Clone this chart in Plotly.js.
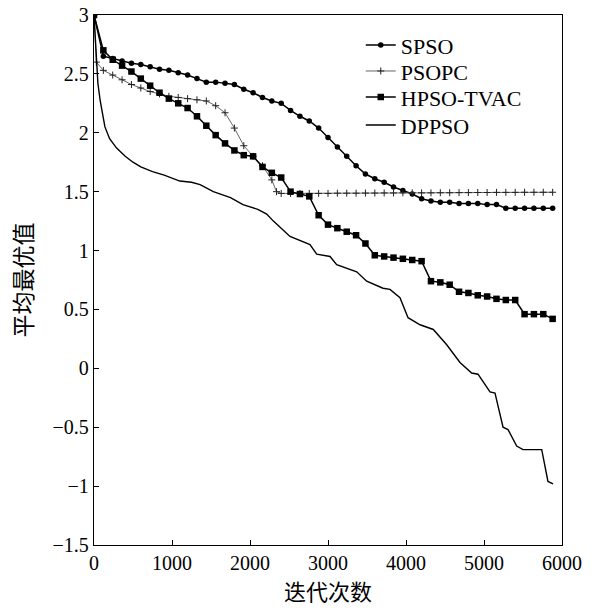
<!DOCTYPE html>
<html><head><meta charset="utf-8">
<script src="https://cdn.plot.ly/plotly-3.0.1.min.js"></script>
<style>body{margin:0;background:#fff}#c{width:598px;height:610px}</style>
</head><body><div id="c"></div>
<script>
const seriesNames = ["SPSO", "PSOPC", "HPSO-TVAC", "DPPSO"];
const xStep = [0,120,240,360,480,600,720,840,960,1080,1200,1320,1440,1560,1680,1800,1920,2040,2160,2280,2400,2520,2640,2760,2880,3000,3120,3240,3360,3480,3600,3720,3840,3960,4080,4200,4320,4440,4560,4680,4800,4920,5040,5160,5280,5400,5520,5640,5760,5880];
const spso = [3.0,2.65,2.63,2.61,2.59,2.58,2.56,2.54,2.53,2.51,2.49,2.46,2.43,2.43,2.42,2.41,2.37,2.34,2.30,2.27,2.25,2.19,2.14,2.10,2.04,1.96,1.88,1.80,1.72,1.65,1.61,1.58,1.54,1.51,1.48,1.44,1.42,1.41,1.41,1.40,1.40,1.40,1.39,1.39,1.36,1.36,1.36,1.36,1.36,1.36];
const hpso = [3.0,2.70,2.62,2.57,2.52,2.46,2.40,2.34,2.29,2.25,2.21,2.14,2.06,1.98,1.91,1.85,1.81,1.80,1.71,1.66,1.62,1.50,1.48,1.46,1.30,1.22,1.19,1.16,1.13,1.06,0.96,0.95,0.94,0.93,0.92,0.91,0.74,0.73,0.71,0.65,0.64,0.62,0.61,0.59,0.58,0.58,0.46,0.46,0.46,0.42];
const psopcX = [0,30,120,240,360,480,600,720,840,960,1080,1200,1320,1440,1560,1680,1800,1920,2040,2160,2280,2340,2400,2520,2640,2760,2880,3000,3120,3240,3360,3480,3600,3720,3840,3960,4080,4200,4320,4440,4560,4680,4800,4920,5040,5160,5280,5400,5520,5640,5760,5880];
const psopc = [3.0,2.60,2.53,2.49,2.45,2.41,2.38,2.35,2.33,2.31,2.30,2.29,2.28,2.27,2.23,2.17,2.04,1.89,1.80,1.72,1.60,1.50,1.485,1.485,1.485,1.485,1.485,1.485,1.487,1.487,1.487,1.488,1.488,1.489,1.489,1.49,1.49,1.49,1.49,1.491,1.491,1.492,1.492,1.493,1.493,1.494,1.494,1.494,1.495,1.495,1.495,1.495];
const dppsoX = [0,30,50,80,140,200,290,400,500,600,750,900,1100,1250,1360,1530,1750,1910,2100,2214,2300,2513,2650,2769,2855,3026,3111,3250,3368,3496,3705,3795,3923,4026,4180,4350,4522,4692,4842,4923,5077,5141,5244,5308,5419,5500,5740,5820,5885];
const dppso = [3.0,2.70,2.42,2.27,2.05,1.95,1.87,1.80,1.75,1.71,1.67,1.64,1.59,1.58,1.56,1.50,1.45,1.39,1.35,1.31,1.25,1.12,1.08,1.05,0.97,0.95,0.88,0.85,0.82,0.74,0.68,0.67,0.60,0.43,0.37,0.33,0.20,0.05,-0.04,-0.05,-0.20,-0.21,-0.50,-0.52,-0.66,-0.69,-0.69,-0.96,-0.98];
const xTicks = [0,1000,2000,3000,4000,5000,6000];
const yTicks = [-1.5,-1,-0.5,0,0.5,1,1.5,2,2.5,3];
const yTickText = ["−1.5","−1","−0.5","0","0.5","1","1.5","2","2.5","3"];

const traces = [
  {x: xStep, y: spso, name: seriesNames[0], legend: "legend", mode: "lines+markers",
   line: {color: "#000", width: 1.5}, marker: {symbol: "circle", size: 5.5, color: "#000"}},
  {x: psopcX, y: psopc, name: seriesNames[1], legend: "legend2", mode: "lines+markers",
   line: {color: "#555", width: 0.9}, marker: {symbol: "cross-thin", size: 5, line: {color: "#222", width: 1}}},
  {x: xStep, y: hpso, name: seriesNames[2], legend: "legend3", mode: "lines+markers",
   line: {color: "#000", width: 1.5}, marker: {symbol: "square", size: 6.5, color: "#000"}},
  {x: dppsoX, y: dppso, name: seriesNames[3], legend: "legend4", mode: "lines",
   line: {color: "#000", width: 1.4}}
];
const serif = "Liberation Serif, Times New Roman, serif";
const cjk = "Noto Sans CJK SC";
function leg(y) {
  return {x: 0.57, y: y, xanchor: "left", yanchor: "middle", bgcolor: "rgba(0,0,0,0)",
          font: {family: serif, size: 22, color: "#000"}, itemwidth: 30};
}
const layout = {
  width: 598, height: 610,
  margin: {l: 94, r: 36, t: 15, b: 65},
  paper_bgcolor: "#fff", plot_bgcolor: "#fff",
  showlegend: true,
  legend: leg(0.943), legend2: leg(0.894), legend3: leg(0.845), legend4: leg(0.792),
  xaxis: {range: [0, 6000], tickvals: xTicks, ticktext: xTicks.map(String), ticks: "inside", ticklen: 5,
          tickcolor: "#000", showline: true, mirror: true, linecolor: "#000", linewidth: 1.2,
          showgrid: false, zeroline: false, tickfont: {family: serif, size: 20, color: "#000"},
          title: {text: "迭代次数", font: {family: cjk, size: 22, color: "#000"}, standoff: 7}},
  yaxis: {range: [-1.5, 3], tickvals: yTicks, ticktext: yTickText, ticks: "inside", ticklen: 5,
          tickcolor: "#000", showline: true, mirror: true, linecolor: "#000", linewidth: 1.2,
          showgrid: false, zeroline: false, tickfont: {family: serif, size: 20, color: "#000"},
          title: {text: "平均最优值", font: {family: cjk, size: 23, color: "#000"}, standoff: 13}}
};
Plotly.newPlot("c", traces, layout, {displayModeBar: false, staticPlot: true});
</script></body></html>
